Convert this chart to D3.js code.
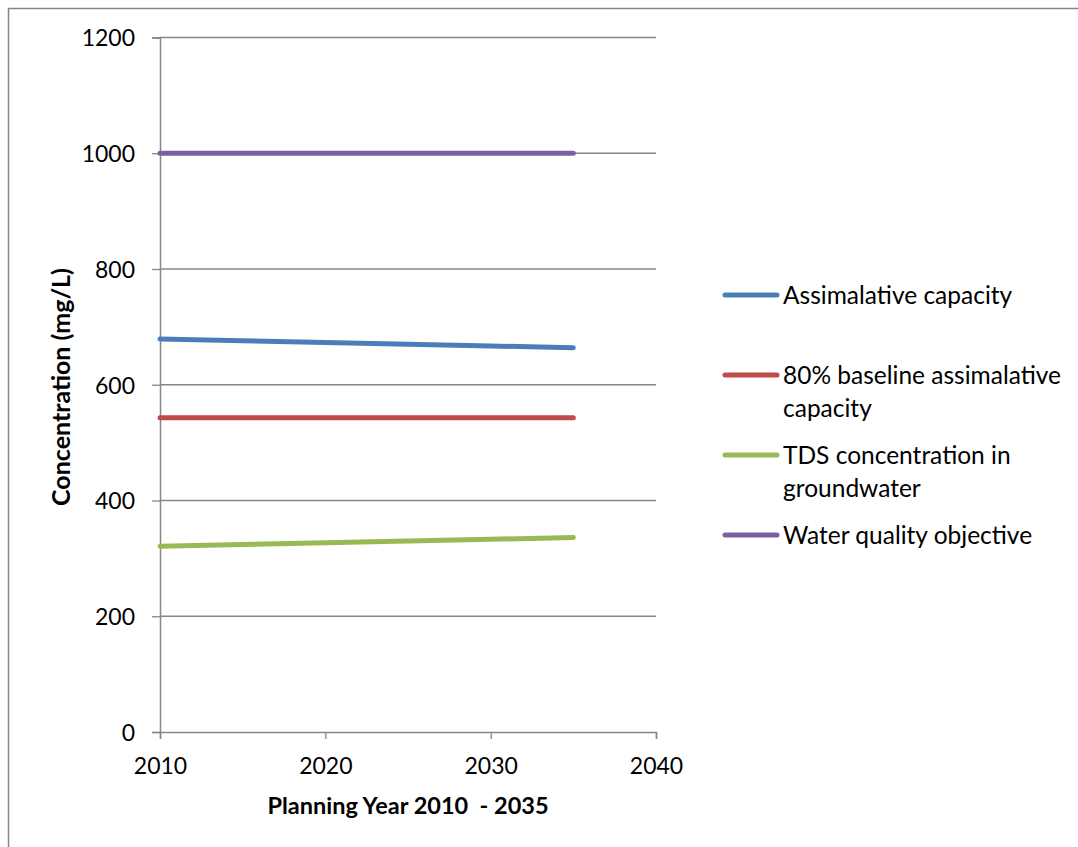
<!DOCTYPE html>
<html>
<head>
<meta charset="utf-8">
<script src="https://cdn.jsdelivr.net/npm/d3@7"></script>
<style>
  body { margin: 0; background: #fff; }
  text { font-family: Lato, "Open Sans", sans-serif; fill: #000; }
</style>
</head>
<body>
<div id="chart"></div>
<script>
// chart data
var years = [2010, 2015, 2020, 2025, 2030, 2035];
var assimilative = [679, 676, 673, 670, 667, 664];
var baseline80 = [543, 543, 543, 543, 543, 543];
var tds = [321, 324, 327, 330, 333, 336];
var objective = [1000, 1000, 1000, 1000, 1000, 1000];

var seriesNames = ["Assimalative capacity", "80% baseline assimalative capacity",
    "TDS concentration in groundwater", "Water quality objective"];
var seriesColors = ["#4a7ebb", "#be4b48", "#98b954", "#7d60a0"];
var legendLines = [["Assimalative capacity"], ["80% baseline assimalative", "capacity"],
    ["TDS concentration in", "groundwater"], ["Water quality objective"]];
var xTicks = [2010, 2020, 2030, 2040];
var yTicks = [0, 200, 400, 600, 800, 1000, 1200];

var allSeries = [assimilative, baseline80, tds, objective];

var svg = d3.select("#chart")
    .append("svg")
    .attr("width", 1078)
    .attr("height", 847);

// outer chart border
svg.append("rect")
    .attr("x", 8.5).attr("y", 8.5)
    .attr("width", 1100).attr("height", 900)
    .attr("fill", "none")
    .attr("stroke", "#868686")
    .attr("stroke-width", 1.5);

var x = d3.scaleLinear().domain([2010, 2040]).range([160, 656]);
var y = d3.scaleLinear().domain([0, 1200]).range([732, 37.5]);

// gridlines
svg.append("g")
    .selectAll("line")
    .data(yTicks.filter(d => d > 0))
    .enter().append("line")
    .attr("x1", x(2010)).attr("x2", x(2040))
    .attr("y1", d => y(d)).attr("y2", d => y(d))
    .attr("stroke", "#868686").attr("stroke-width", 1.3);

var yAxis = svg.append("g")
    .attr("transform", "translate(" + x(2010) + ",0)")
    .call(d3.axisLeft(y).tickValues(yTicks).tickSize(8).tickPadding(17).tickFormat(d3.format("d")));

var xAxis = svg.append("g")
    .attr("transform", "translate(0," + y(0) + ")")
    .call(d3.axisBottom(x).tickValues(xTicks).tickSize(7).tickPadding(19).tickFormat(d3.format("d")));

[yAxis, xAxis].forEach(function (ax) {
    ax.select(".domain").attr("stroke", "#868686").attr("stroke-width", 1.5);
    ax.selectAll(".tick line").attr("stroke", "#868686").attr("stroke-width", 1.3);
    ax.selectAll(".tick text").style("font-size", "23px").style("font-family", "Lato, sans-serif");
});
yAxis.selectAll(".tick text").attr("dy", "0.36em");
xAxis.selectAll(".tick text").attr("dy", "0.71em");

var line = d3.line()
    .x(function (d, i) { return x(years[i]); })
    .y(function (d) { return y(d); });

svg.append("g")
    .selectAll("path")
    .data(allSeries)
    .enter().append("path")
    .attr("d", line)
    .attr("fill", "none")
    .attr("stroke", (d, i) => seriesColors[i])
    .attr("stroke-width", 5)
    .attr("stroke-linecap", "round");

// axis titles
svg.append("text")
    .attr("x", 408).attr("y", 814)
    .attr("text-anchor", "middle")
    .style("font-size", "23.5px").style("font-weight", "bold")
    .style("white-space", "pre")
    .text("Planning Year 2010  - 2035");

svg.append("text")
    .attr("transform", "translate(70,387) rotate(-90)")
    .attr("text-anchor", "middle")
    .style("font-size", "25px").style("font-weight", "bold")
    .text("Concentration (mg/L)");

// legend
var legendY = [295, 375, 455, 535];
var legend = svg.append("g")
    .selectAll("g")
    .data(seriesNames)
    .enter().append("g")
    .attr("transform", (d, i) => "translate(723," + legendY[i] + ")");

legend.append("line")
    .attr("x1", 2).attr("x2", 54)
    .attr("stroke", (d, i) => seriesColors[i])
    .attr("stroke-width", 5)
    .attr("stroke-linecap", "round");

legend.append("text")
    .attr("x", 60)
    .style("font-size", "24.5px")
    .each(function (d, i) {
        var t = d3.select(this);
        legendLines[i].forEach(function (s, j) {
            t.append("tspan").attr("x", 60).attr("y", j * 33).attr("dy", "0.36em").text(s);
        });
    });
</script>
</body>
</html>
